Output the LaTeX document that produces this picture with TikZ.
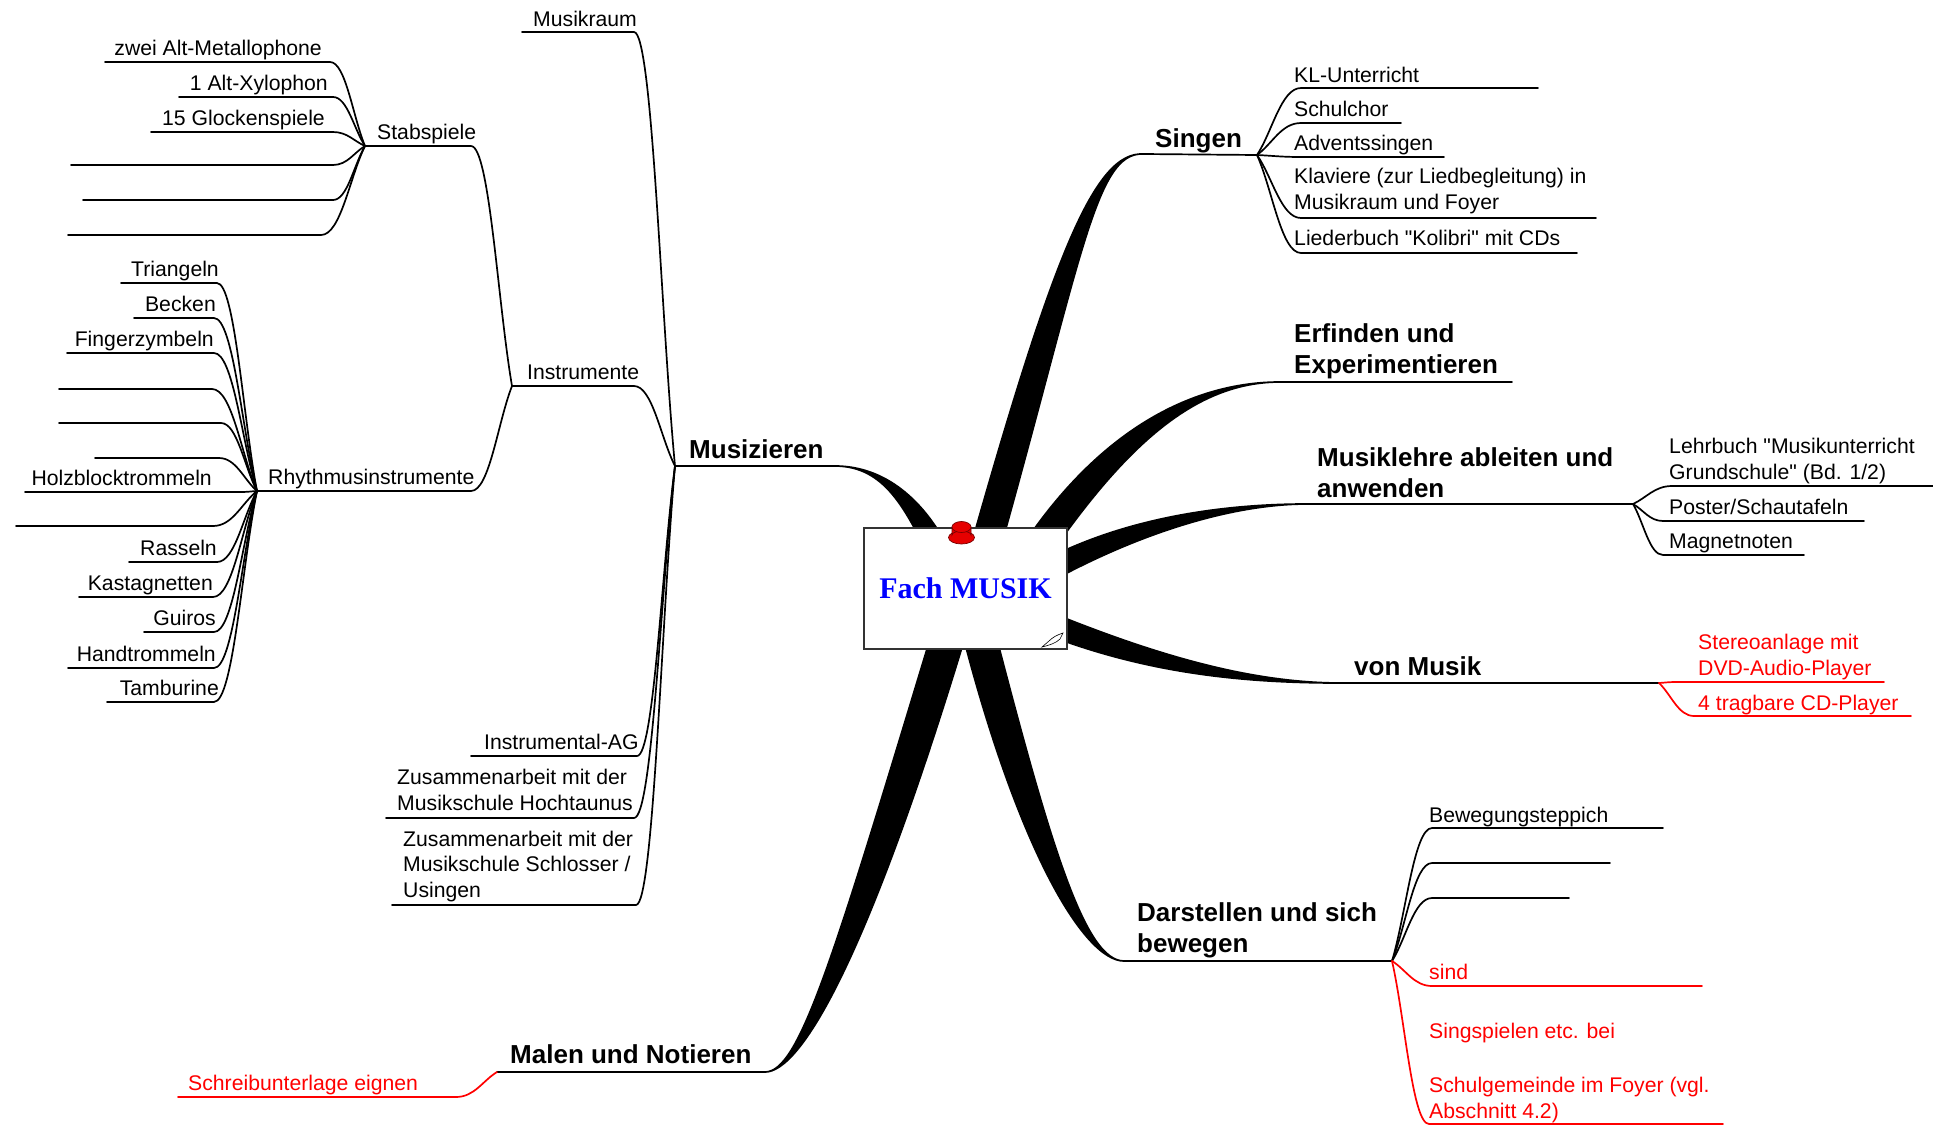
\documentclass[tikz,border=0pt]{standalone}
\usepackage{fontspec}
\setmainfont{Liberation Sans}[Ligatures=TeXOff]
\newfontfamily\rootfont{Liberation Serif}
\usetikzlibrary{calc}
\definecolor{pinred}{RGB}{230,0,0}
\definecolor{pindark}{RGB}{120,0,0}
\definecolor{rootblue}{RGB}{0,0,255}
\tikzset{
 lbl/.style={inner sep=0pt, font=\fontsize{21.2}{25.5}\selectfont, align=left},
 lblr/.style={lbl, anchor=base east},
 lbll/.style={lbl, anchor=base west},
 redlbl/.style={lbll, text=red},
 boldlbl/.style={inner sep=0pt, anchor=base west, align=left, font=\fontsize{26}{31}\selectfont\bfseries},
 ln/.style={line width=1.7pt, line join=round, line cap=round},
 rln/.style={ln, draw=red},
 br/.style={to path={.. controls ($(\tikztostart)!0.45!(\tikztotarget|-\tikztostart)$) and ($(\tikztotarget)!0.35!(\tikztostart)$) .. (\tikztotarget)}},
 rootbox/.style={draw=black!80, line width=1.2pt, fill=white, minimum width=203pt, minimum height=121pt, inner sep=0pt},
}
\newcommand\mmbranch[6]{\filldraw[line width=1.7pt, line join=round] (#1) .. controls (#2) and ($(#3)+(#5,#6)$) .. ($(#4)+(#5,#6)$) -- ($(#4)-(#5,#6)$) .. controls ($(#3)-(#5,#6)$) and (#2) .. (#1) -- cycle;}
\begin{document}
\begin{tikzpicture}[x=1pt,y=-1pt]
\useasboundingbox (0,0) rectangle (1933,1125);
% junctions and branch ends
\coordinate (jS) at (365,146);
\coordinate (jI) at (512,386);
\coordinate (jR) at (257,491);
\coordinate (jM) at (675,466);
\coordinate (jG) at (1257,155);
\coordinate (jL) at (1633,504);
\coordinate (jV) at (1659,683);
\coordinate (jD) at (1392,961);
\coordinate (stE) at (471,146);
\coordinate (rhE) at (471,491);
\coordinate (inE) at (634,386);
\coordinate (eMus) at (835,466);
\coordinate (eSing) at (1143,154);
\coordinate (eErf) at (1280,382);
\coordinate (eErfR) at (1512,382);
\coordinate (eLehre) at (1307,504);
\coordinate (eVon) at (1341,683);
\coordinate (eDar) at (1124,961);
\coordinate (eMal) at (765,1072);
\coordinate (eMalL) at (497,1072);
% branch tips inside the root box
\coordinate (tMus) at (940,555);
\coordinate (tSing) at (982,560);
\coordinate (tErf) at (1040,545);
\coordinate (tLehre) at (1040,575);
\coordinate (tVon) at (1040,620);
\coordinate (tDar) at (978,630);
\coordinate (tMal) at (950,630);

% ---- main tapered branches
\mmbranch{eMus}{885,466}{915,505}{tMus}{9.4}{-4.7}
\mmbranch{eSing}{1095,152}{1068,255}{tSing}{14}{3.9}
\mmbranch{eErf}{1200,382}{1120,430}{tErf}{11.5}{8}
\mmbranch{eLehre}{1230,504}{1130,525}{tLehre}{5.3}{9.6}
\mmbranch{eVon}{1250,683}{1150,665}{tVon}{4.2}{-10.2}
\mmbranch{eDar}{1085,961}{1035,850}{tDar}{15.5}{-4}
\mmbranch{eMal}{800,1072}{850,960}{tMal}{15.8}{4.8}

% ---- root
\node[rootbox] (root) at (965.5,588.5) {\rootfont\fontsize{30}{36}\selectfont\bfseries\textcolor{rootblue}{Fach MUSIK}};
\filldraw[fill=pinred, draw=pindark, line width=0.7pt] (961.5,537.5) ellipse [x radius=13, y radius=6.5];
\filldraw[fill=pinred, draw=pindark, line width=0.7pt] (952,527) -- (952,535) arc [start angle=180, end angle=360, x radius=9.5, y radius=4] -- (971,527) -- cycle;
\filldraw[fill=pinred, draw=pindark, line width=0.7pt] (961.5,527) ellipse [x radius=9.5, y radius=5.5];
\filldraw[fill=white, draw=black, line width=0.6pt] (1042,647) -- (1049,641) .. controls (1053,637) and (1057,635) .. (1063,633) -- (1060,639) .. controls (1056,643) and (1050,645) .. (1042,647) -- cycle;

% ---- main labels and underlines
\node[boldlbl] (mus) at (689,458) {Musizieren};
\draw[ln] (jM) -- (eMus);
\node[boldlbl] (sing) at (1155,147) {Singen};
\draw[ln] (eSing) -- (jG);
\node[boldlbl] (erf) at (1294,373) {Erfinden und\\Experimentieren};
\draw[ln] (eErf) -- (eErfR);
\node[boldlbl] (lehre) at (1317,497) {Musiklehre ableiten und\\anwenden};
\draw[ln] (eLehre) -- (jL);
\node[boldlbl] (von) at (1354,675) {von Musik};
\draw[ln] (eVon) -- (jV);
\node[boldlbl] (dar) at (1137,952) {Darstellen und sich\\bewegen};
\draw[ln] (eDar) -- (jD);
\node[boldlbl] (mal) at (510,1063) {Malen und Notieren};
\draw[ln] (eMalL) -- (eMal);

% ---- Musizieren subtree
\coordinate (m1a) at (522,32); \coordinate (m1b) at (634,32);
\node[lbll] (m1) at (533,26) {Musikraum};
\draw[ln] (m1a) -- (m1b) to[br] (jM);
\node[lbll] (inst) at (527,379) {Instrumente};
\draw[ln] (jI) -- (inE) to[br] (jM);
\coordinate (m3a) at (471,756); \coordinate (m3b) at (637,756);
\node[lbll] (m3) at (484,749) {Instrumental-AG};
\draw[ln] (m3a) -- (m3b) to[br] (jM);
\coordinate (m4a) at (386,818); \coordinate (m4b) at (634,818);
\node[lbll] (m4) at (397,810) {Zusammenarbeit mit der\\Musikschule Hochtaunus};
\draw[ln] (m4a) -- (m4b) to[br] (jM);
\coordinate (m5a) at (392,905); \coordinate (m5b) at (636,905);
\node[lbll] (m5) at (403,897) {Zusammenarbeit mit der\\Musikschule Schlosser /\\Usingen};
\draw[ln] (m5a) -- (m5b) to[br] (jM);

% Stabspiele
\node[lbll] (stab) at (377,139) {Stabspiele};
\draw[ln] (jS) -- (stE) to[br] (jI);
\coordinate (s1a) at (105,62); \coordinate (s1b) at (330,62);
\node[lblr] (s1) at (322,55) {zwei Alt-Metallophone};
\draw[ln] (s1a) -- (s1b) to[br] (jS);
\coordinate (s2a) at (179,97); \coordinate (s2b) at (333,97);
\node[lblr] (s2) at (328,90) {1 Alt-Xylophon};
\draw[ln] (s2a) -- (s2b) to[br] (jS);
\coordinate (s3a) at (151,132); \coordinate (s3b) at (333,132);
\node[lblr] (s3) at (325,125) {15 Glockenspiele};
\draw[ln] (s3a) -- (s3b) to[br] (jS);
\coordinate (s4a) at (71,165); \coordinate (s4b) at (333,165);
\draw[ln] (s4a) -- (s4b) to[br] (jS);
\coordinate (s5a) at (83,200); \coordinate (s5b) at (333,200);
\draw[ln] (s5a) -- (s5b) to[br] (jS);
\coordinate (s6a) at (68,235); \coordinate (s6b) at (321,235);
\draw[ln] (s6a) -- (s6b) to[br] (jS);

% Rhythmusinstrumente
\node[lbll] (rhy) at (268,484) {Rhythmusinstrumente};
\draw[ln] (jR) -- (rhE) to[br] (jI);
\coordinate (r1a) at (121,283); \coordinate (r1b) at (217,283);
\node[lblr] (r1) at (219,276) {Triangeln};
\draw[ln] (r1a) -- (r1b) to[br] (jR);
\coordinate (r2a) at (134,318); \coordinate (r2b) at (214,318);
\node[lblr] (r2) at (216,311) {Becken};
\draw[ln] (r2a) -- (r2b) to[br] (jR);
\coordinate (r3a) at (67,353); \coordinate (r3b) at (214,353);
\node[lblr] (r3) at (214,346) {Fingerzymbeln};
\draw[ln] (r3a) -- (r3b) to[br] (jR);
\coordinate (r4a) at (59,389); \coordinate (r4b) at (212,389);
\draw[ln] (r4a) -- (r4b) to[br] (jR);
\coordinate (r5a) at (59,423); \coordinate (r5b) at (221,423);
\draw[ln] (r5a) -- (r5b) to[br] (jR);
\coordinate (r6a) at (95,458); \coordinate (r6b) at (219,458);
\draw[ln] (r6a) -- (r6b) to[br] (jR);
\coordinate (r7a) at (25,492); \coordinate (r7b) at (240,492);
\node[lblr] (r7) at (212,485) {Holzblocktrommeln};
\draw[ln] (r7a) -- (r7b) to[br] (jR);
\coordinate (r8a) at (16,526); \coordinate (r8b) at (213,526);
\draw[ln] (r8a) -- (r8b) to[br] (jR);
\coordinate (r9a) at (129,562); \coordinate (r9b) at (217,562);
\node[lblr] (r9) at (217,555) {Rasseln};
\draw[ln] (r9a) -- (r9b) to[br] (jR);
\coordinate (r10a) at (79,597); \coordinate (r10b) at (213,597);
\node[lblr] (r10) at (213,590) {Kastagnetten};
\draw[ln] (r10a) -- (r10b) to[br] (jR);
\coordinate (r11a) at (144,632); \coordinate (r11b) at (214,632);
\node[lblr] (r11) at (216,625) {Guiros};
\draw[ln] (r11a) -- (r11b) to[br] (jR);
\coordinate (r12a) at (68,668); \coordinate (r12b) at (214,668);
\node[lblr] (r12) at (216,661) {Handtrommeln};
\draw[ln] (r12a) -- (r12b) to[br] (jR);
\coordinate (r13a) at (107,702); \coordinate (r13b) at (214,702);
\node[lblr] (r13) at (219,695) {Tamburine};
\draw[ln] (r13a) -- (r13b) to[br] (jR);

% ---- Singen subtree
\coordinate (g1a) at (1301,88); \coordinate (g1b) at (1538,88);
\node[lbll] (g1) at (1294,82) {KL-Unterricht};
\draw[ln] (g1b) -- (g1a) to[br] (jG);
\coordinate (g2a) at (1301,123); \coordinate (g2b) at (1401,123);
\node[lbll] (g2) at (1294,116) {Schulchor};
\draw[ln] (g2b) -- (g2a) to[br] (jG);
\coordinate (g3a) at (1301,157); \coordinate (g3b) at (1444,157);
\node[lbll] (g3) at (1294,150) {Adventssingen};
\draw[ln] (g3b) -- (g3a) to[br] (jG);
\coordinate (g4a) at (1301,218); \coordinate (g4b) at (1596,218);
\node[lbll] (g4) at (1294,209) {Klaviere (zur Liedbegleitung) in\\Musikraum und Foyer};
\draw[ln] (g4b) -- (g4a) to[br] (jG);
\coordinate (g5a) at (1301,253); \coordinate (g5b) at (1577,253);
\node[lbll] (g5) at (1294,245) {Liederbuch "Kolibri" mit CDs};
\draw[ln] (g5b) -- (g5a) to[br] (jG);

% ---- Musiklehre subtree
\coordinate (l1a) at (1672,486); \coordinate (l1b) at (1933,486);
\node[lbll] (l1) at (1669,479) {Lehrbuch "Musikunterricht\\Grundschule" (Bd. 1/2)};
\draw[ln] (l1b) -- (l1a) to[br] (jL);
\coordinate (l2a) at (1663,521); \coordinate (l2b) at (1864,521);
\node[lbll] (l2) at (1669,514) {Poster/Schautafeln};
\draw[ln] (l2b) -- (l2a) to[br] (jL);
\coordinate (l3a) at (1663,555); \coordinate (l3b) at (1804,555);
\node[lbll] (l3) at (1669,548) {Magnetnoten};
\draw[ln] (l3b) -- (l3a) to[br] (jL);

% ---- von Musik subtree
\coordinate (v1a) at (1676,682); \coordinate (v1b) at (1884,682);
\node[redlbl] (v1) at (1698,675) {Stereoanlage mit\\DVD-Audio-Player};
\draw[rln] (v1b) -- (v1a) to[br] (jV);
\coordinate (v2a) at (1694,716); \coordinate (v2b) at (1911,716);
\node[redlbl] (v2) at (1698,710) {4 tragbare CD-Player};
\draw[rln] (v2b) -- (v2a) to[br] (jV);

% ---- Darstellen subtree
\coordinate (d1a) at (1432,828); \coordinate (d1b) at (1663,828);
\node[lbll] (d1) at (1429,822) {Bewegungsteppich};
\draw[ln] (d1b) -- (d1a) to[br] (jD);
\coordinate (d2a) at (1432,863); \coordinate (d2b) at (1610,863);
\draw[ln] (d2b) -- (d2a) to[br] (jD);
\coordinate (d3a) at (1432,898); \coordinate (d3b) at (1569,898);
\draw[ln] (d3b) -- (d3a) to[br] (jD);
\coordinate (d4a) at (1432,986); \coordinate (d4b) at (1702,986);
\node[redlbl] (d4) at (1429,979) {sind};
\draw[rln] (d4b) -- (d4a) to[br] (jD);
\node[redlbl] (d5) at (1429,1038) {Singspielen etc. bei};
\coordinate (d6a) at (1429,1124); \coordinate (d6b) at (1723,1124);
\node[redlbl] (d6) at (1429,1118) {Schulgemeinde im Foyer (vgl.\\Abschnitt 4.2)};
\draw[rln] (d6b) -- (d6a) to[br] (jD);

% ---- Malen subtree
\coordinate (u1a) at (178,1097); \coordinate (u1b) at (456,1097);
\node[redlbl] (u1) at (188,1090) {Schreibunterlage eignen};
\draw[rln] (u1a) -- (u1b) to[br] (eMalL);
\end{tikzpicture}
\end{document}
